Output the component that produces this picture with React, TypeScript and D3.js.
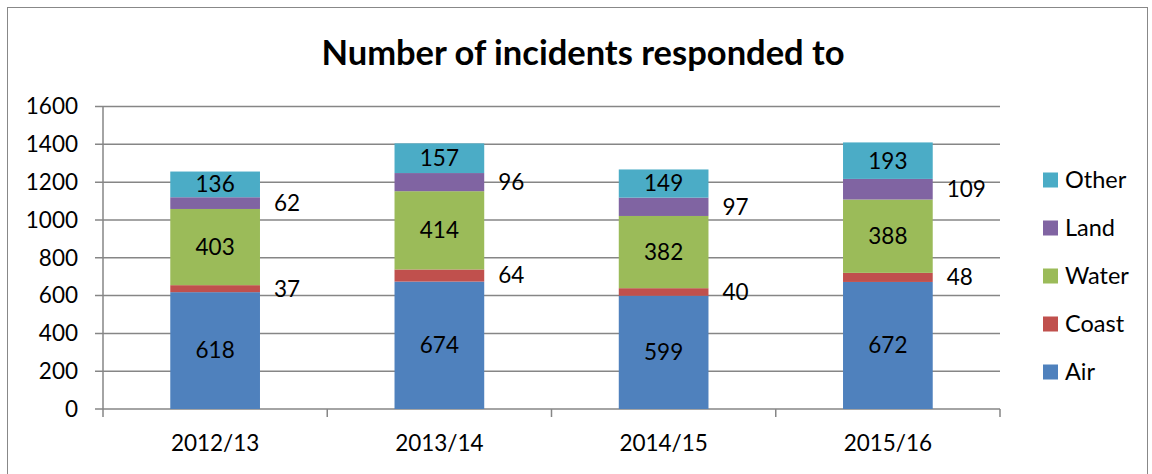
import React from "react";
import * as d3 from "d3";

const years = ["2012/13", "2013/14", "2014/15", "2015/16"];
const seriesNames = ["Air", "Coast", "Water", "Land", "Other"];
const air = [618, 674, 599, 672];
const coast = [37, 64, 40, 48];
const water = [403, 414, 382, 388];
const land = [62, 96, 97, 109];
const other = [136, 157, 149, 193];
const yTicks = [0, 200, 400, 600, 800, 1000, 1200, 1400, 1600];

const colors: Record<string, string> = {
  Air: "#4F81BD",
  Coast: "#C0504D",
  Water: "#9BBB59",
  Land: "#8064A2",
  Other: "#4BACC6",
};
// small segments get their label outside, to the right of the bar
const outside = new Set(["Coast", "Land"]);

const W = 1152;
const H = 474;
const font = "Lato, 'Open Sans', sans-serif";

export default function App() {
  const rows = years.map((year, i) => ({
    year,
    Air: air[i],
    Coast: coast[i],
    Water: water[i],
    Land: land[i],
    Other: other[i],
  }));
  const stacked = d3.stack<any>().keys(seriesNames)(rows);

  const x = d3.scaleBand().domain(years).range([103, 1000]);
  const y = d3.scaleLinear().domain([0, 1600]).range([409, 106.5]);
  const barW = x.bandwidth() * 0.4;
  const grid = "#868686";
  const fs = 22.5;

  return (
    <svg width={W} height={H} style={{ position: "absolute", left: 0, top: 0, fontFamily: font }}>
      <rect x={7.5} y={7.5} width={1140} height={480} fill="#fff" stroke="#888" />
      <text x={583} y={65} textAnchor="middle" fontSize={34.5} fontWeight="bold" fill="#000">
        Number of incidents responded to
      </text>

      {/* gridlines + y ticks */}
      {yTicks.map((t) => (
        <g key={t}>
          <line x1={95} x2={1000} y1={y(t)} y2={y(t)} stroke={grid} strokeWidth={1.5} />
          <text x={78} y={y(t)} dy="0.35em" textAnchor="end" fontSize={fs} fill="#000">
            {t}
          </text>
        </g>
      ))}
      <line x1={103} x2={103} y1={y(1600)} y2={y(0) + 8} stroke={grid} strokeWidth={1.5} />

      {/* category ticks */}
      {years.map((yr) => (
        <line key={yr} x1={x(yr)! + x.bandwidth()} x2={x(yr)! + x.bandwidth()} y1={y(0)} y2={y(0) + 8} stroke={grid} strokeWidth={1.5} />
      ))}

      {/* bars */}
      {stacked.map((s) => (
        <g key={s.key}>
          {s.map((d, i) => {
            const cx = x(years[i])! + x.bandwidth() / 2;
            const y0 = y(d[0]);
            const y1 = y(d[1]);
            const v = d[1] - d[0];
            const out = outside.has(s.key);
            return (
              <g key={i}>
                <rect x={cx - barW / 2} y={y1} width={barW} height={y0 - y1} fill={colors[s.key]} />
                <text
                  x={out ? cx + barW / 2 + 14 : cx}
                  y={(y0 + y1) / 2}
                  dy="0.35em"
                  textAnchor={out ? "start" : "middle"}
                  fontSize={fs}
                  fill="#000"
                >
                  {v}
                </text>
              </g>
            );
          })}
        </g>
      ))}

      {/* x labels */}
      {years.map((yr) => (
        <text key={yr} x={x(yr)! + x.bandwidth() / 2} y={451} textAnchor="middle" fontSize={fs} fill="#000">
          {yr}
        </text>
      ))}

      {/* legend */}
      {seriesNames
        .slice()
        .reverse()
        .map((n, i) => (
          <g key={n} transform={`translate(1043,${180 + i * 48})`}>
            <rect x={0} y={-7.5} width={15} height={15} fill={colors[n]} />
            <text x={22} y={0} dy="0.35em" fontSize={23.5} fill="#000">
              {n}
            </text>
          </g>
        ))}
    </svg>
  );
}
